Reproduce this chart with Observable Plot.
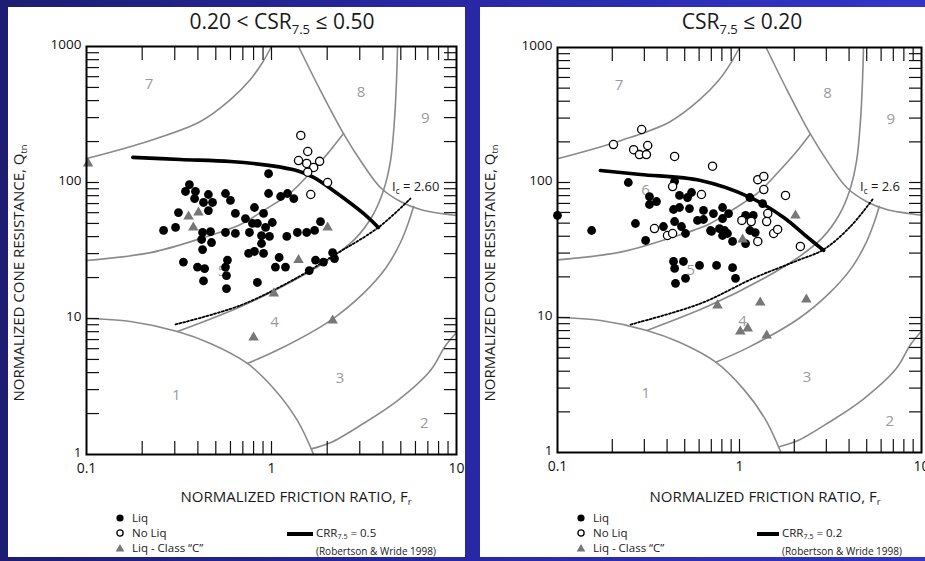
<!DOCTYPE html>
<html><head><meta charset="utf-8">
<script src="https://cdn.jsdelivr.net/npm/d3@7"></script>
<script src="https://cdn.jsdelivr.net/npm/@observablehq/plot@0.6"></script>
<style>
html,body{margin:0;padding:0}
body{width:925px;height:561px;overflow:hidden;position:relative;
 background:linear-gradient(90deg,#1d1d72 0%,#2727a2 45%,#3434c8 100%);
 font-family:"Open Sans",sans-serif;color:#1a1a1a}
.panel{position:absolute;top:7px;height:550px;background:#fff;overflow:hidden}
.abs{position:absolute;white-space:nowrap}
.abs svg{display:block}
.title{font-size:21px;line-height:21px;transform:translateX(-50%)}
.sub{font-size:0.62em;position:relative;top:0.35em}
.xlab{font-size:15px;line-height:16px;transform:translate(-50%,-50%)}
.ylab{font-size:15px;line-height:16px;transform:translate(-50%,-50%) rotate(-90deg)}
.leg{font-size:11.5px;line-height:12px;transform:translateY(-50%)}
.small{font-size:10px;line-height:11px;transform:translateY(-50%)}
.ic{font-size:13px;line-height:13px;transform:translateY(-50%)}
</style></head><body>
<div id="left" class="panel" style="left:8px;width:457px"></div>
<div id="right" class="panel" style="left:480px;width:445px"></div>
<script>
// ---- axis ticks ----
const xMinor = [0.2,0.3,0.4,0.5,0.6,0.7,0.8,0.9,1,2,3,4,5,6,7,8,9];
const yMinor = [2,3,4,5,6,7,8,9,10,20,30,40,50,60,70,80,90,100,200,300,400,500,600,700,800,900];
const xLabels = [0.1,1,10];
const yLabels = [1,10,100,1000];

// ---- soil behaviour type zone boundaries [Fr, Qtn] ----
const zoneA = [[0.1,150],[0.222,204],[0.413,281],[0.600,407],[0.769,572],[0.894,763],[1.0,1000]];
const zoneB = [[1.40,1000],[1.84,474],[2.45,229],[3.10,138],[3.88,91.9],[4.98,72.4],[6.38,63.3],[10,57.2]];
const zoneC = [[0.1,26.7],[0.222,30.5],[0.413,38.7],[0.679,49.1],[0.906,62.2],[1.27,84.4],[1.63,119],[2.01,163],[2.45,229]];
const zoneE = [[0.310,8.02],[0.679,12.2],[1.38,19.7],[2.08,27.6],[2.84,38.7],[3.52,57.2],[4.03,87.3],[4.40,145],[4.62,286],[4.74,562],[4.80,1000]];
const zoneF = [[0.741,4.67],[1.12,6.01],[2.08,9.66],[3.14,15.3],[4.13,23.3],[4.98,36.2],[5.50,50.8],[5.86,66.5]];
const zoneG = [[0.1,10],[0.173,9.5],[0.310,8.02],[0.468,6.55],[0.741,4.67],[1.05,2.96],[1.38,1.78],[1.69,1.0]];
const zoneH = [[1.64,1.1],[2.08,1.22],[3.14,1.69],[4.80,2.49],[7.23,4.15],[8.73,6.33],[10,7.9]];
const boundaries = [zoneA, zoneB, zoneC, zoneE, zoneF, zoneG, zoneH];

const zoneNames = ["1","2","3","4","5","6","7","8","9"];
const zoneFr    = [0.306,6.70,2.35,1.04,0.54,0.305,0.218,3.05,6.78];
const zoneQt    = [2.73,1.70,3.64,9.4,22.4,87.3,526,459,296];

// ---- left panel: 0.20 < CSR7.5 <= 0.50 ----
const liqLeft = [[0.360,96.6],[0.343,85.9],[0.388,85.9],[0.384,76.2],[0.456,81.6],[0.429,71.3],[0.480,71.3],[0.456,62.2],[0.564,83.0],[0.600,73.8],[0.638,59.2],[0.314,60.1],[0.261,44.4],[0.303,46.7],[0.424,42.9],[0.468,43.6],[0.419,38.1],[0.474,36.2],[0.564,42.9],[0.638,42.2],[0.424,32.1],[0.334,26.0],[0.398,23.9],[0.435,23.3],[0.578,26.9],[0.564,23.9],[0.429,18.9],[0.571,20.7],[0.571,16.6],[0.964,116],[0.964,83.0],[1.12,78.9],[1.22,83.0],[1.32,76.2],[0.809,65.5],[0.906,59.2],[0.723,54.3],[0.789,50.0],[0.839,50.0],[0.929,46.7],[1.01,50.8],[0.760,42.9],[0.883,40.7],[0.975,40.1],[0.883,35.6],[1.21,40.1],[1.38,42.9],[1.55,42.9],[1.71,44.4],[1.84,51.6],[0.752,30.1],[0.809,31.1],[0.906,30.1],[1.10,28.1],[1.05,23.9],[1.19,23.9],[1.60,22.5],[1.73,26.9],[1.91,26.0],[2.14,30.5],[2.19,27.6],[0.839,18.4]];
const noLiqLeft = [[1.44,222],[1.57,169],[1.40,145],[1.55,138],[1.69,129],[1.82,143],[1.57,119],[2.01,100],[1.63,81.6]];
const classCLeft = [[0.102,138],[0.356,56.2],[0.403,60.1],[0.378,46.7],[2.01,46.7],[1.40,26.9],[1.03,15.3],[0.80,7.24],[2.14,9.66]];
const crrLeft = [[0.178,153],[0.322,147.6],[0.600,142.6],[0.989,133],[1.38,122],[1.69,109],[2.27,83.0],[3.14,59.2],[3.78,46.7]];
const icLeft = [[0.303,9.04],[0.680,12.5],[1.38,20.0],[2.16,29.0],[3.78,46.7],[5.64,76.2]];

// ---- right panel: CSR7.5 <= 0.20 ----
const liqRight = [[0.100,57.0],[0.154,44.1],[0.245,100],[0.320,78.7],[0.320,68.7],[0.350,72.3],[0.268,49.7],[0.305,37.2],[0.382,47.2],[0.440,102],[0.468,80.2],[0.518,77.4],[0.545,84.3],[0.434,63.1],[0.468,65.3],[0.531,64.1],[0.440,51.4],[0.480,47.2],[0.505,41.9],[0.588,52.4],[0.634,53.2],[0.634,62.1],[0.693,44.1],[0.434,26.0],[0.492,26.0],[0.440,23.1],[0.603,24.3],[0.505,19.5],[0.445,17.9],[0.719,58.9],[0.807,65.3],[0.807,54.1],[0.871,58.9],[0.702,43.4],[0.776,45.6],[0.828,44.1],[0.807,40.5],[0.859,41.9],[0.916,36.6],[1.08,57.0],[1.19,57.0],[1.14,77.4],[1.34,69.8],[1.14,44.1],[1.22,42.6],[1.08,35.3],[0.748,24.3],[0.916,23.4],[0.951,19.5]];
const noLiqRight = [[0.203,191],[0.290,247],[0.262,175],[0.282,161],[0.308,161],[0.313,188],[0.440,156],[0.429,93.3],[0.618,81.5],[0.711,132],[0.341,45.6],[0.402,40.5],[0.429,41.9],[1.26,105],[1.36,111],[1.36,88.7],[1.79,80.2],[1.43,58.9],[1.03,52.4],[1.16,51.4],[1.41,51.4],[1.54,41.9],[1.62,44.9],[1.26,36.6],[2.16,33.6]];
const classCRight = [[2.03,57.0],[1.04,37.8],[0.757,12.3],[1.30,12.9],[2.33,13.6],[1.01,7.87],[1.11,8.30],[1.41,7.36]];
const crrRight = [[0.172,122.7],[0.286,114.6],[0.611,103.5],[1.15,77.4],[1.75,55.1],[2.37,39.2],[2.90,31.4]];
const icRight = [[0.252,8.87],[0.611,12.7],[1.19,19.5],[2.08,26.4],[2.90,31.9],[4.07,47.2],[5.38,74.8]];

const fx = d => d[0], fy = d => d[1];

function makePlot(c) {
  const marks = [];
  for (const b of boundaries) marks.push(Plot.line(b, {x: fx, y: fy, stroke: "#8a8a8a", strokeWidth: 1.6, curve: "catmull-rom"}));
  const zl = zoneNames.filter(z => !c.hideZones.includes(z));
  marks.push(Plot.text(zl, {x: d => zoneFr[zoneNames.indexOf(d)], y: d => zoneQt[zoneNames.indexOf(d)], text: d => d, fill: "#9b9b9b", fontSize: 15}));
  marks.push(Plot.line(c.ic, {x: fx, y: fy, stroke: "#000", strokeWidth: 1.8, strokeDasharray: "2,2", curve: "catmull-rom"}));
  marks.push(Plot.line(c.crr, {x: fx, y: fy, stroke: "#000", strokeWidth: 3.6, curve: "catmull-rom"}));
  marks.push(Plot.dot(c.liq, {x: fx, y: fy, r: 4.4, fill: "#000"}));
  marks.push(Plot.dot(c.noLiq, {x: fx, y: fy, r: 4.1, fill: "#fff", stroke: "#000", strokeWidth: 1.3}));
  marks.push(Plot.dot(c.classC, {x: fx, y: fy, r: 3.9, symbol: "triangle", fill: "#777"}));
  marks.push(Plot.axisX({anchor: "bottom", ticks: xMinor, tickSize: -13, fill: "none", label: null, strokeWidth: 1.2}));
  marks.push(Plot.axisX({anchor: "top", ticks: xMinor, tickSize: -13, fill: "none", label: null, strokeWidth: 1.2}));
  marks.push(Plot.axisY({anchor: "left", ticks: yMinor, tickSize: -13, fill: "none", label: null, strokeWidth: 1.2}));
  marks.push(Plot.axisY({anchor: "right", ticks: yMinor, tickSize: -13, fill: "none", label: null, strokeWidth: 1.2}));
  marks.push(Plot.axisX({anchor: "bottom", ticks: xLabels, tickSize: 0, tickPadding: 9, tickFormat: d => String(d), label: null, fontSize: 14}));
  marks.push(Plot.axisY({anchor: "left", ticks: yLabels, tickSize: 0, tickPadding: 5, tickFormat: d => String(d), label: null, fontSize: 13.5, dy: -2}));
  marks.push(Plot.frame({stroke: "#000", strokeWidth: 2}));
  const svg = Plot.plot({
    width: c.w, height: c.h,
    marginLeft: c.ml, marginTop: 10, marginRight: 14, marginBottom: 22,
    x: {type: "log", domain: [0.1, 10]},
    y: {type: "log", domain: [1, 1000]},
    style: {background: "transparent", overflow: "visible", fontFamily: "Open Sans", fontSize: "14px", color: "#111", maxWidth: "none"},
    marks
  });
  svg.style.position = "absolute";
  svg.style.left = c.sx + "px";
  svg.style.top = c.sy + "px";
  return svg;
}

function add(el, cls, x, y, html) {
  const d = document.createElement("div");
  d.className = "abs " + cls;
  d.style.left = x + "px";
  d.style.top = y + "px";
  d.innerHTML = html;
  el.appendChild(d);
  return d;
}

function buildPanel(id, c) {
  const el = document.getElementById(id);
  el.appendChild(makePlot(c));
  add(el, "title", c.titleX, 4, c.title);
  add(el, "ylab", c.ylabX, 266, 'NORMALIZED CONE RESISTANCE, Q<span class="sub">tn</span>');
  add(el, "xlab", c.xlabX, 490, 'NORMALIZED FRICTION RATIO, F<span class="sub">r</span>');
  add(el, "ic", c.icX, 180, 'I<span class="sub">c</span> = ' + c.icText);
  const lx = c.legX, rows = [511, 526, 541];
  add(el, "", lx - 5, rows[0] - 5, '<svg width="10" height="10"><circle cx="5" cy="5" r="3.6" fill="#000"/></svg>');
  add(el, "", lx - 5, rows[1] - 5, '<svg width="10" height="10"><circle cx="5" cy="5" r="3.1" fill="#fff" stroke="#000" stroke-width="1.3"/></svg>');
  add(el, "", lx - 5, rows[2] - 5, '<svg width="10" height="10"><path d="M5,1 L9.3,8.6 L0.7,8.6 Z" fill="#777"/></svg>');
  add(el, "leg", lx + 12, rows[0], "Liq");
  add(el, "leg", lx + 12, rows[1], "No Liq");
  add(el, "leg", lx + 12, rows[2], "Liq - Class \u201CC\u201D");
  const line = add(el, "", c.crrX, 525, "");
  line.style.width = c.crrW + "px"; line.style.height = "4px"; line.style.background = "#000";
  add(el, "leg", c.crrX + c.crrW + 3, 526, 'CRR<span class="sub">7.5</span> = ' + c.crrText);
  add(el, "small", c.crrX + c.crrW + 3, 544, "(Robertson &amp; Wride 1998)");
}

buildPanel("left", {
  w: 440, h: 440, ml: 56, sx: 22, sy: 29, hideZones: ["6"],
  liq: liqLeft, noLiq: noLiqLeft, classC: classCLeft, crr: crrLeft, ic: icLeft,
  title: '0.20 &lt; CSR<span class="sub">7.5</span> \u2264 0.50', titleX: 274,
  ylabX: 11, xlabX: 288, icX: 384, icText: "2.60",
  legX: 112, crrX: 279, crrW: 26, crrText: "0.5"
});
buildPanel("right", {
  w: 435, h: 437, ml: 57, sx: 20, sy: 30, hideZones: [],
  liq: liqRight, noLiq: noLiqRight, classC: classCRight, crr: crrRight, ic: icRight,
  title: 'CSR<span class="sub">7.5</span> \u2264 0.20', titleX: 262,
  ylabX: 10, xlabX: 285, icX: 380, icText: "2.6",
  legX: 101, crrX: 277, crrW: 22, crrText: "0.2"
});
</script>
</body></html>
